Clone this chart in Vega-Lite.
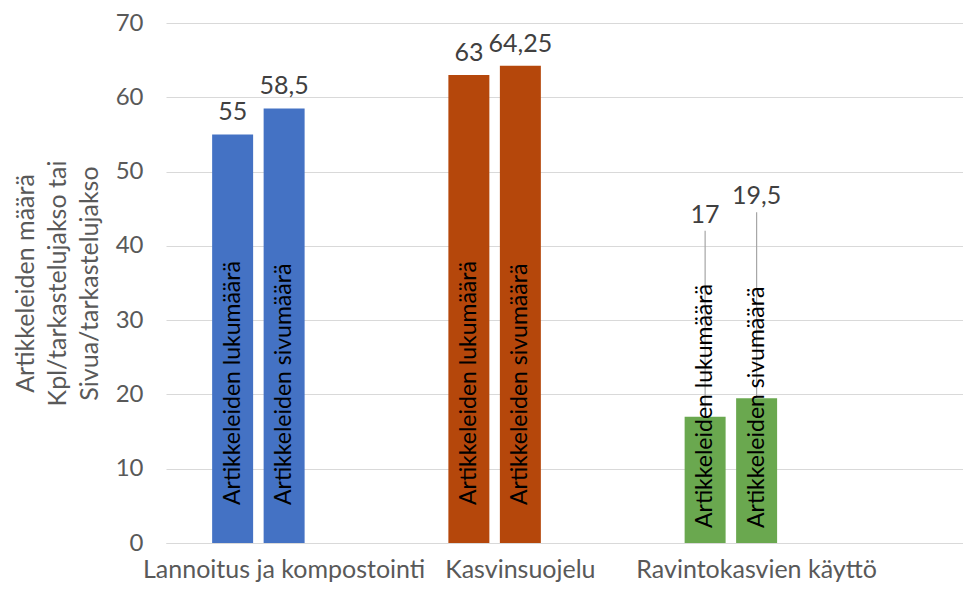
{
  "$schema": "https://vega.github.io/schema/vega-lite/v6.json",
  "width": 797,
  "height": 520,
  "autosize": {"type": "none"},
  "padding": {"left": 166, "top": 23, "right": 0, "bottom": 47},
  "background": "white",
  "config": {
    "view": {"stroke": null},
    "font": "Lato",
    "locale": {"number": {"decimal": ",", "thousands": " ", "grouping": [3], "currency": ["", " €"]}}
  },
  "data": {
    "values": [
      {"kategoria": "Lannoitus ja kompostointi", "sarja": "Artikkeleiden lukumäärä", "arvo": 55},
      {"kategoria": "Lannoitus ja kompostointi", "sarja": "Artikkeleiden sivumäärä", "arvo": 58.5},
      {"kategoria": "Kasvinsuojelu", "sarja": "Artikkeleiden lukumäärä", "arvo": 63},
      {"kategoria": "Kasvinsuojelu", "sarja": "Artikkeleiden sivumäärä", "arvo": 64.25},
      {"kategoria": "Ravintokasvien käyttö", "sarja": "Artikkeleiden lukumäärä", "arvo": 17},
      {"kategoria": "Ravintokasvien käyttö", "sarja": "Artikkeleiden sivumäärä", "arvo": 19.5}
    ]
  },
  "encoding": {
    "x": {
      "field": "kategoria",
      "type": "nominal",
      "sort": ["Lannoitus ja kompostointi", "Kasvinsuojelu", "Ravintokasvien käyttö"],
      "scale": {"paddingInner": 0, "paddingOuter": 0.1868, "align": 0},
      "axis": {
        "title": null,
        "labelAngle": 0,
        "labelFontSize": 25,
        "labelColor": "#595959",
        "labelPadding": 14,
        "labelLimit": 0,
        "ticks": false,
        "domainColor": "#d9d9d9",
        "domainWidth": 1
      }
    },
    "xOffset": {
      "field": "sarja",
      "type": "nominal",
      "scale": {
        "domain": ["Artikkeleiden lukumäärä", "Artikkeleiden sivumäärä", "_tyhjä"],
        "paddingInner": 0.204,
        "paddingOuter": 0.896
      }
    }
  },
  "layer": [
    {
      "mark": {"type": "bar"},
      "encoding": {
        "y": {
          "field": "arvo",
          "type": "quantitative",
          "scale": {"domain": [0, 70], "nice": false},
          "axis": {
            "values": [0, 10, 20, 30, 40, 50, 60, 70],
            "domain": false,
            "ticks": false,
            "grid": true,
            "gridColor": "#d9d9d9",
            "gridWidth": 1,
            "labelFontSize": 24,
            "labelColor": "#595959",
            "labelPadding": 23,
            "title": ["Artikkeleiden  määrä", "Kpl/tarkastelujakso tai", "Sivua/tarkastelujakso"],
            "titleFontSize": 25,
            "titleFontWeight": "normal",
            "titleColor": "#595959",
            "titleLineHeight": 32,
            "titlePadding": 13
          }
        },
        "color": {
          "field": "kategoria",
          "type": "nominal",
          "scale": {
            "domain": ["Lannoitus ja kompostointi", "Kasvinsuojelu", "Ravintokasvien käyttö"],
            "range": ["#4472C4", "#B5470B", "#6AA84F"]
          },
          "legend": null
        }
      }
    },
    {
      "transform": [{"filter": "datum.kategoria !== 'Ravintokasvien käyttö'"}],
      "mark": {"type": "text", "fontSize": 25, "color": "#404040", "baseline": "middle", "dy": -22},
      "encoding": {
        "y": {"field": "arvo", "type": "quantitative"},
        "text": {"field": "arvo", "type": "quantitative", "format": "~g"}
      }
    },
    {
      "transform": [{"filter": "datum.kategoria !== 'Ravintokasvien käyttö'"}],
      "mark": {"type": "text", "fontSize": 23, "color": "#000000", "angle": 270, "align": "left", "baseline": "middle", "dx": 38},
      "encoding": {
        "y": {"datum": 0, "type": "quantitative"},
        "text": {"field": "sarja"}
      }
    },
    {
      "transform": [{"filter": "datum.kategoria === 'Ravintokasvien käyttö'"}],
      "mark": {"type": "rule", "color": "#a6a6a6", "strokeWidth": 1.2, "y2Offset": -186},
      "encoding": {
        "y": {"field": "arvo", "type": "quantitative"},
        "y2": {"field": "arvo"}
      }
    },
    {
      "transform": [{"filter": "datum.kategoria === 'Ravintokasvien käyttö'"}],
      "mark": {"type": "text", "fontSize": 23, "color": "#000000", "angle": 270, "align": "left", "baseline": "middle", "dx": 15, "xOffset": -3},
      "encoding": {
        "y": {"datum": 0, "type": "quantitative"},
        "text": {"field": "sarja"}
      }
    },
    {
      "transform": [{"filter": "datum.kategoria === 'Ravintokasvien käyttö'"}],
      "mark": {"type": "text", "fontSize": 25, "color": "#404040", "baseline": "middle", "dy": -202},
      "encoding": {
        "y": {"field": "arvo", "type": "quantitative"},
        "text": {"field": "arvo", "type": "quantitative", "format": "~g"}
      }
    }
  ]
}
